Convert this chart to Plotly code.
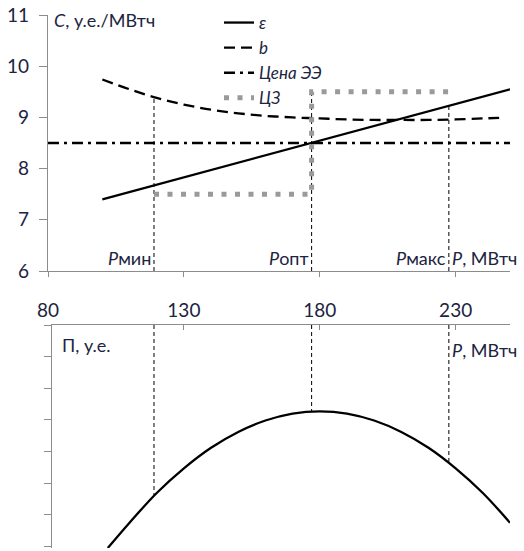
import plotly.graph_objects as go

# ---- data ----
P_eps = [100, 250]
eps_vals = [7.4, 9.55]

P_b = [100, 110, 120, 130, 140, 150, 160, 170, 180, 190, 200, 210, 220, 230, 240, 246]
b_vals = [9.74, 9.55, 9.38, 9.25, 9.15, 9.08, 9.03, 9.00, 8.98, 8.96, 8.95, 8.95, 8.95, 8.96, 8.98, 8.99]

P_price = [80, 250]
price_vals = [8.5, 8.5]

P_min, P_opt, P_max = 119, 177, 227.5
cz_P = [P_min, P_opt, P_opt, P_max]
cz_vals = [7.5, 7.5, 9.5, 9.5]

guide_P = [P_min, P_opt, P_max]
guide_top_vals = [9.39, 9.5, 9.23]
guide_bottom_vals = [-5.4, -2.75, -4.37]

P_pi = [102, 110, 120, 130, 140, 150, 160, 170, 180, 190, 200, 210, 220, 230, 240, 250]
pi_vals = [-7.05, -6.25, -5.31, -4.53, -3.88, -3.38, -3.02, -2.80, -2.73, -2.80, -3.02, -3.38, -3.88, -4.53, -5.31, -6.25]

x_ticks = [80, 130, 180, 230]
y_ticks = [6, 7, 8, 9, 10, 11]
y2_ticks = [0, -1, -2, -3, -4, -5, -6, -7]

FONT = "Lato"
TXT = "#1c2440"
AX = "#8c8c8c"

fig = go.Figure()

# vertical guide lines (top)
gx, gy = [], []
for p, v in zip(guide_P, guide_top_vals):
    gx += [p, p, None]
    gy += [6, v, None]
fig.add_trace(go.Scatter(x=gx, y=gy, mode="lines", showlegend=False, hoverinfo="skip",
                         line=dict(color="black", width=1, dash="4px,3px"), xaxis="x", yaxis="y"))

fig.add_trace(go.Scatter(x=P_eps, y=eps_vals, mode="lines", name="ε",
                         line=dict(color="black", width=2.3), xaxis="x", yaxis="y"))
fig.add_trace(go.Scatter(x=P_b, y=b_vals, mode="lines", name="b", line_shape="spline",
                         line=dict(color="black", width=2.3, dash="11px,6px"), xaxis="x", yaxis="y"))
fig.add_trace(go.Scatter(x=P_price, y=price_vals, mode="lines", name="Цена ЭЭ",
                         line=dict(color="black", width=2.3, dash="11px,5px,3px,5px"), xaxis="x", yaxis="y"))
fig.add_trace(go.Scatter(x=cz_P, y=cz_vals, mode="lines", name="ЦЗ",
                         line=dict(color="#9a9a9a", width=5, dash="5px,8.5px"), xaxis="x", yaxis="y"))

# bottom chart
bx, by = [], []
for p, v in zip(guide_P, guide_bottom_vals):
    bx += [p, p, None]
    by += [0, v, None]
fig.add_trace(go.Scatter(x=bx, y=by, mode="lines", showlegend=False, hoverinfo="skip",
                         line=dict(color="black", width=1, dash="4px,3px"), xaxis="x2", yaxis="y2"))
fig.add_trace(go.Scatter(x=P_pi, y=pi_vals, mode="lines", showlegend=False, line_shape="spline",
                         line=dict(color="black", width=2.3), xaxis="x2", yaxis="y2"))

H = 551
mt, mb = 15, 3
ph = H - mt - mb

def fy(px):
    return (H - mb - px) / ph

axis_common = dict(showgrid=False, zeroline=False, showline=True, linecolor=AX, linewidth=1.3,
                   tickcolor=AX, tickwidth=1.3, automargin=False)

fig.update_layout(
    width=524, height=551,
    margin=dict(l=48, r=14, t=mt, b=mb, autoexpand=False),
    paper_bgcolor="white", plot_bgcolor="white",
    font=dict(family=FONT, size=19, color=TXT),
    xaxis=dict(domain=[0, 1], range=[80, 250], anchor="y", tickvals=x_ticks, ticks="outside",
               ticklen=5, ticklabelstandoff=17, tickfont=dict(size=19, color=TXT), **axis_common),
    yaxis=dict(domain=[fy(271), 1], range=[6, 11], anchor="x", tickvals=y_ticks, ticks="outside",
               ticklen=8, ticklabelstandoff=6, tickfont=dict(size=19, color=TXT), **axis_common),
    xaxis2=dict(domain=[4 / 462, 1], range=[80 + 4 / 2.718, 250], anchor="y2", side="top",
                tickvals=x_ticks, ticks="inside", ticklen=5, showticklabels=False, **axis_common),
    yaxis2=dict(domain=[0, fy(325)], range=[-7.05, 0], anchor="x2", tickvals=y2_ticks,
                ticks="outside", ticklen=7, showticklabels=False, **axis_common),
    legend=dict(x=(219 - 48) / 462, y=1 - 5 / H, yref="container", xanchor="left", yanchor="top",
                bgcolor="rgba(0,0,0,0)", tracegroupgap=0,
                font=dict(family=FONT, size=17, color=TXT, style="italic")),
    showlegend=True,
)

ann = [
    dict(x=81.5, y=10.9, xref="x", yref="y", text="<i>C</i>, у.е./МВтч", xanchor="left", yanchor="middle"),
    dict(x=P_min - 0.3, y=6.25, xref="x", yref="y", text="<i>P</i>мин", xanchor="right", yanchor="middle"),
    dict(x=P_opt - 0.3, y=6.25, xref="x", yref="y", text="<i>P</i>опт", xanchor="right", yanchor="middle"),
    dict(x=P_max - 0.3, y=6.25, xref="x", yref="y", text="<i>P</i>макс", xanchor="right", yanchor="middle"),
    dict(x=P_max + 0.6, y=6.25, xref="x", yref="y", text="<i>P</i>, МВтч", xanchor="left", yanchor="middle"),
    dict(x=84.5, y=-0.63, xref="x2", yref="y2", text="П, у.е.", xanchor="left", yanchor="middle"),
    dict(x=P_max + 0.6, y=-0.8, xref="x2", yref="y2", text="<i>P</i>, МВтч", xanchor="left", yanchor="middle"),
]
for a in ann:
    a.update(showarrow=False, font=dict(family=FONT, size=18, color=TXT))
fig.update_layout(annotations=ann)

fig.write_html("out.html")
